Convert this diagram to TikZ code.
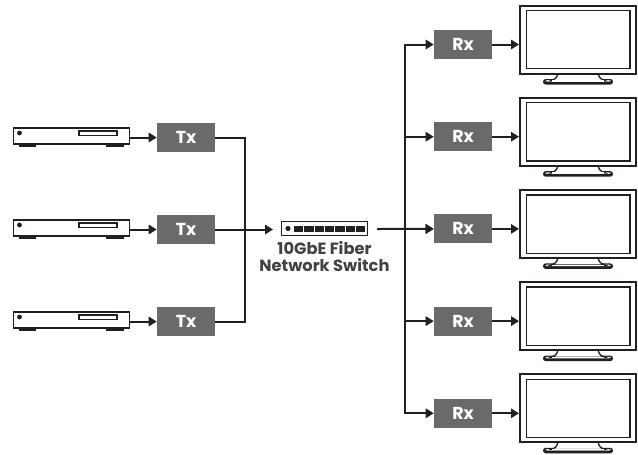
\documentclass[tikz,border=0pt]{standalone}
\usepackage{fontspec}
\setmainfont{Poppins}
\usetikzlibrary{arrows.meta,calc}
\definecolor{boxg}{HTML}{6A6A6D}
\definecolor{ink}{HTML}{231F20}
\tikzset{
  x=0.75pt,y=-0.75pt,
  unit/.style={fill=boxg,draw=none,minimum width=43.5pt,minimum height=21.75pt,inner sep=0pt,text=white,font=\fontsize{13}{15}\selectfont\bfseries},
  player/.style={draw=ink,line width=1.1pt,fill=white,minimum width=87pt,minimum height=12.2pt,inner sep=0pt},
  screen/.style={draw=ink,line width=1.5pt,fill=white,minimum width=87pt,minimum height=51pt,inner sep=0pt},
  swbox/.style={draw=ink,line width=0.9pt,fill=white,minimum width=65pt,minimum height=10.5pt,inner sep=0pt},
  link/.style={draw=ink,line width=1.5pt},
  arrowlink/.style={link,-{Triangle[length=6pt,width=7pt]}},
  thinpart/.style={draw=ink,line width=0.8pt,fill=white},
  caption/.style={text=ink!85,align=center,font=\fontsize{12.2}{13.3}\selectfont\bfseries}
}
\begin{document}
\begin{tikzpicture}
\useasboundingbox (0,0) rectangle (638,454);
\fill[white] (0,0) rectangle (638,454);
% players and Tx
\foreach \n/\y in {1/137.5,2/229.5,3/321.5}{
  \draw[thinpart] (19.5,\y+5) rectangle (35.5,\y+8.5);
  \draw[thinpart] (107,\y+5) rectangle (123.5,\y+8.5);
  \node[player] (p\n) at (71.5,\y-1.5) {};
  \draw[thinpart] (79,\y-6.5) rectangle (117,\y-2);
  \fill[ink] (19.5,\y-4.5) circle (2.4);
  \node[unit] (t\n) at (186,\y) {Tx};
  \draw[arrowlink] (p\n.east |- t\n) -- (t\n);
}
% switch
\node[swbox] (sw) at (324.5,228.5) {};
\fill[ink] (288,228.5) circle (2.6);
\foreach \k in {0,...,6}{\fill[ink] (294+\k*10.35,225.5) rectangle (303.3+\k*10.35,232);}
\node[caption] (cap) at (324.5,256.5) {10GbE Fiber\\Network Switch};
\coordinate (txbus) at (245,229.5);
\coordinate (swout) at (377,229);
\coordinate (rxbus) at (405,229);
\draw[link] (t1.east) -| (txbus) |- (t3.east);
\draw[arrowlink] (t2.east) -- (273,229.5) coordinate (swin);
% receivers and monitors
\foreach \n/\y in {1/44.5,2/136.7,3/228.9,4/321.1,5/413.3}{
  \node[unit] (r\n) at (463,\y) {Rx};
  \fill[ink,rounded corners=2pt] (543,\y+34.5) rectangle (613,\y+40);
  \fill[white,rounded corners=1pt] (545.5,\y+35.7) rectangle (610.5,\y+37.2);
  \draw[ink,line width=1pt,fill=white] (558,\y+28) .. controls (557.5,\y+33) and (555,\y+35) .. (551,\y+36.2) -- (605,\y+36.2) .. controls (601,\y+35) and (598.5,\y+33) .. (598,\y+28);
  \fill[white] (552,\y+35.6) rectangle (604,\y+37);
  \node[screen] (m\n) at (578,\y-5) {};
  \draw[ink,line width=1pt] (526.3,\y-34) rectangle (630,\y+24.3);
  \draw[arrowlink] (r\n) -- (r\n -| m\n.west);
}
\draw[link] (swout) -- (rxbus);
\foreach \n in {1,2,3,4,5}{\draw[arrowlink] (rxbus) |- (r\n.west);}
\draw[arrowlink] (swout) -- (r3.west);
\end{tikzpicture}
\end{document}
